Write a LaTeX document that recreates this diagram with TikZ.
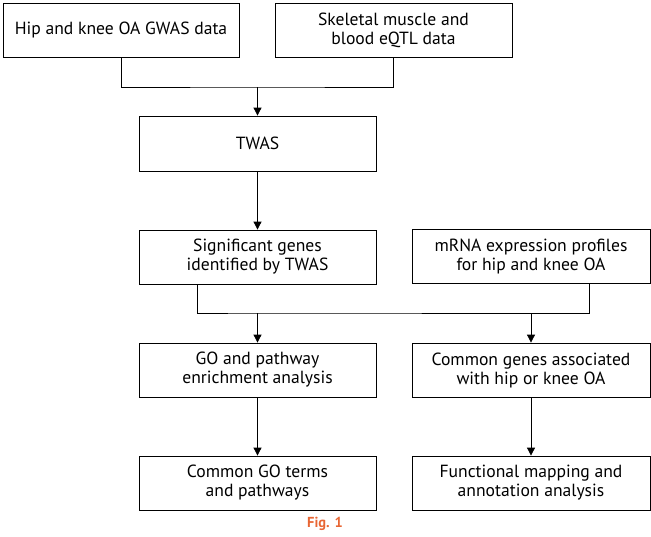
\documentclass[tikz,border=0pt]{standalone}
\usepackage{fontspec}
\setmainfont{PT Sans}
\usepackage{xcolor}
\usetikzlibrary{arrows.meta}
\definecolor{figorange}{RGB}{232,102,52}

\begin{document}
\begin{tikzpicture}[x=1pt, y=1pt,
		box/.style={draw, line width=0.8pt, align=center, minimum width=237pt, minimum height=54pt, inner sep=2pt, font=\fontsize{17.6}{19}\selectfont},
		arr/.style={-{Triangle[width=8pt,length=8pt]}, line width=0.8pt}]

				\useasboundingbox (0,0) rectangle (651,-536);

				\node [box, minimum width=236pt] (1) at (121,-30){Hip and knee OA GWAS data};
				\node [box] (2) at (393.5,-30){Skeletal muscle and\\blood eQTL data};
				\node [box, minimum height=55pt] (3) at (257.5,-143.5){TWAS};
				\node [box] (4) at (257.5,-257){Significant genes\\identified by TWAS};
				\node [box, minimum width=238pt] (5) at (531,-256.5){mRNA expression profiles\\for hip and knee OA};
				\node [box] (6) at (257.5,-370){GO and pathway\\enrichment analysis};
				\node [box, minimum width=238pt] (7) at (531,-370){Common genes associated\\with hip or knee OA};
				\node [box] (8) at (257.5,-483){Common GO terms\\and pathways};
				\node [box, minimum width=238pt] (9) at (531,-483){Functional mapping and\\annotation analysis};

				\node [text=figorange, font=\fontsize{14.5}{16}\selectfont\bfseries] (fig) at (325,-524){Fig. 1};

				\coordinate (j1) at (257.5,-87);
				\coordinate (j2) at (257.5,-313);

				\draw [line width=0.8pt] (1.south) |- (j1) -| (2.south);
				\draw [arr] (j1) -- (3.north);
				\draw [arr] (3) -- (4);
				\draw [line width=0.8pt] ([xshift=59pt]4.south west) |- (j2) -| ([xshift=-61pt]5.south east);
				\draw [arr] (j2) -- (6.north);
				\draw [arr] (7.north |- j2) -- (7.north);
				\draw [arr] (6) -- (8);
				\draw [arr] (7) -- (9);

			\end{tikzpicture}
\end{document}
